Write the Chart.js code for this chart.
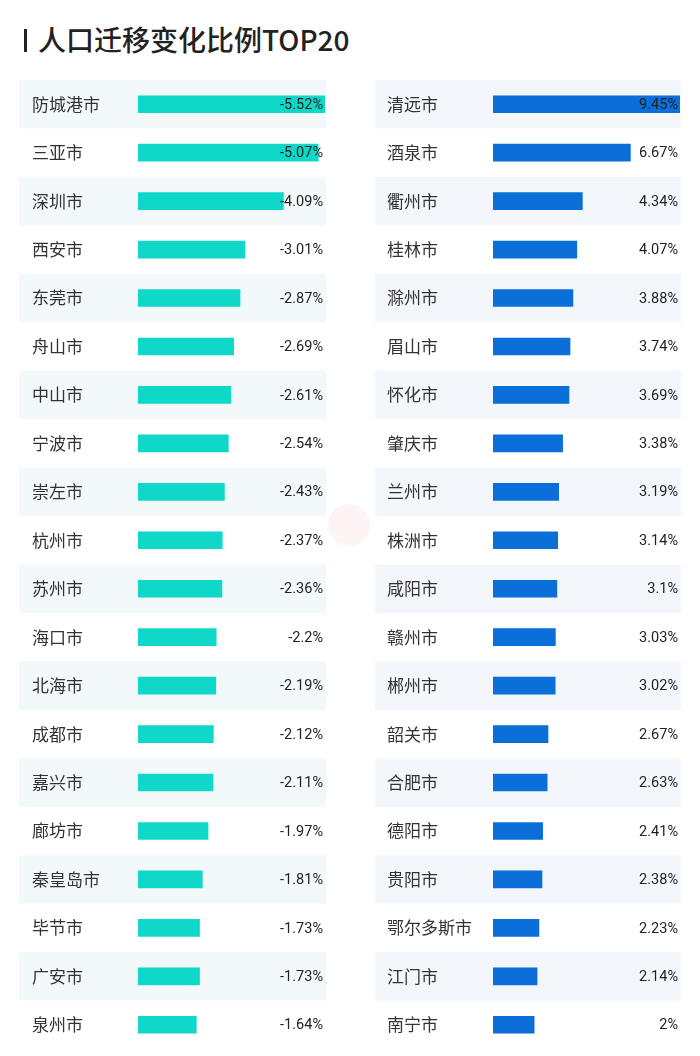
<!DOCTYPE html>
<html>
<head>
<meta charset="utf-8">
<script src="https://cdn.jsdelivr.net/npm/chart.js@4"></script>
<style>
    body { margin: 0; background: #fff; width: 700px; height: 1056px; position: relative; overflow: hidden; }
    #barra { position: absolute; left: 24px; top: 29px; width: 3px; height: 23px; background: #222; }
    #titulo { position: absolute; left: 38px; top: 19px; font: 500 28px "Noto Sans CJK SC", sans-serif; color: #222; white-space: nowrap; }
    #marca { position: absolute; left: 328px; top: 504px; width: 42px; height: 42px; border-radius: 50%; background: rgba(230, 120, 120, 0.07); }
    canvas { position: absolute; top: 76px; }
</style>
</head>
<body>
<div id="barra"></div>
<div id="titulo">人口迁移变化比例TOP20</div>
<canvas id="graficoSaida" width="350" height="980" style="left:0"></canvas>
<canvas id="graficoEntrada" width="350" height="980" style="left:350px"></canvas>
<div id="marca"></div>
<script>
// cidades que perderam população (valores negativos)
var cidadesSaida = ['防城港市', '三亚市', '深圳市', '西安市', '东莞市', '舟山市', '中山市', '宁波市', '崇左市', '杭州市',
    '苏州市', '海口市', '北海市', '成都市', '嘉兴市', '廊坊市', '秦皇岛市', '毕节市', '广安市', '泉州市'];
var valoresSaida = [-5.52, -5.07, -4.09, -3.01, -2.87, -2.69, -2.61, -2.54, -2.43, -2.37,
    -2.36, -2.2, -2.19, -2.12, -2.11, -1.97, -1.81, -1.73, -1.73, -1.64];

// cidades que ganharam população
var cidadesEntrada = ['清远市', '酒泉市', '衢州市', '桂林市', '滁州市', '眉山市', '怀化市', '肇庆市', '兰州市', '株洲市',
    '咸阳市', '赣州市', '郴州市', '韶关市', '合肥市', '德阳市', '贵阳市', '鄂尔多斯市', '江门市', '南宁市'];
var valoresEntrada = [9.45, 6.67, 4.34, 4.07, 3.88, 3.74, 3.69, 3.38, 3.19, 3.14,
    3.1, 3.03, 3.02, 2.67, 2.63, 2.41, 2.38, 2.23, 2.14, 2];

// faixas de fundo, nomes das cidades e rótulos dos valores
var decoracao = {
    id: 'decoracao',
    beforeDatasetsDraw: function (chart, args, opts) {
        var ctx = chart.ctx;
        var y = chart.scales.y;
        var alt = (chart.chartArea.bottom - chart.chartArea.top) / opts.nomes.length;
        ctx.save();
        ctx.fillStyle = opts.corFaixa;
        for (var i = 0; i < opts.nomes.length; i += 2) {
            var c = y.getPixelForValue(i);
            ctx.fillRect(opts.faixaIni, c - alt / 2, opts.faixaFim - opts.faixaIni, alt);
        }
        ctx.restore();
    },
    afterDatasetsDraw: function (chart, args, opts) {
        var ctx = chart.ctx;
        var y = chart.scales.y;
        ctx.save();
        ctx.textBaseline = 'middle';
        for (var i = 0; i < opts.nomes.length; i++) {
            var c = y.getPixelForValue(i);
            ctx.fillStyle = '#333';
            ctx.font = '17px "Noto Sans CJK SC", sans-serif';
            ctx.textAlign = 'left';
            ctx.fillText(opts.nomes[i], opts.nomeX, c);
            ctx.fillStyle = '#222';
            ctx.font = '14.5px Roboto, sans-serif';
            ctx.textAlign = 'right';
            ctx.fillText(opts.valores[i] + '%', opts.valorX, c + 1);
        }
        ctx.restore();
    }
};

function criaGrafico(id, nomes, valores, cor, max, pad, deco) {
    return new Chart(document.getElementById(id).getContext('2d'), {
        type: 'bar',
        data: {
            labels: nomes,
            datasets: [{
                data: valores.map(function (v) { return Math.abs(v); }),
                backgroundColor: cor,
                barThickness: 17,
                borderWidth: 0
            }]
        },
        options: {
            indexAxis: 'y',
            responsive: false,
            animation: false,
            layout: { padding: pad },
            plugins: {
                legend: { display: false },
                tooltip: { enabled: false },
                decoracao: deco
            },
            scales: {
                x: { display: false, min: 0, max: max },
                y: { display: false }
            }
        },
        plugins: [decoracao]
    });
}

criaGrafico('graficoSaida', cidadesSaida, valoresSaida, '#10d8c8', 5.26,
    { left: 138, right: 25, top: 4, bottom: 7 },
    { nomes: cidadesSaida, valores: valoresSaida, corFaixa: '#f3f9fa', faixaIni: 19, faixaFim: 326, nomeX: 32, valorX: 323 });

criaGrafico('graficoEntrada', cidadesEntrada, valoresEntrada, '#0a6fd8', 9.08,
    { left: 143, right: 20, top: 4, bottom: 7 },
    { nomes: cidadesEntrada, valores: valoresEntrada, corFaixa: '#f3f7fc', faixaIni: 25, faixaFim: 331, nomeX: 37, valorX: 328 });
</script>
</body>
</html>
